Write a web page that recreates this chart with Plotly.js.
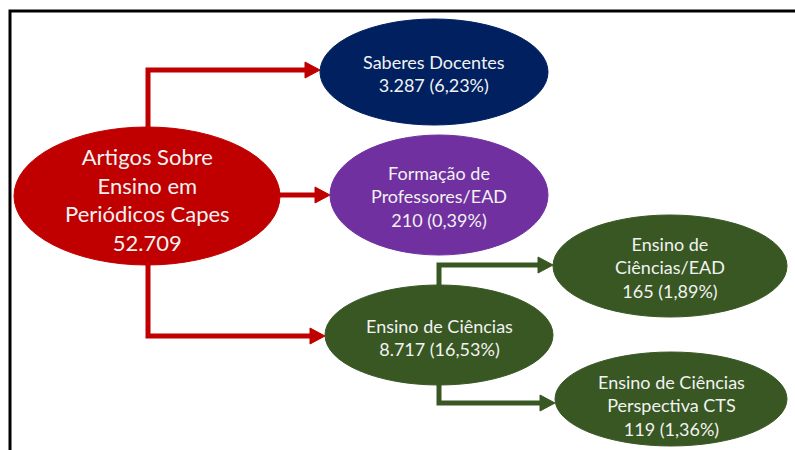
<!DOCTYPE html>
<html>
<head>
<meta charset="utf-8">
<script src="https://cdn.plot.ly/plotly-3.0.1.min.js"></script>
<style>html,body{margin:0;padding:0;background:#fff;}#chart{width:795px;height:450px;}</style>
</head>
<body>
<div id="chart"></div>
<script>
// ---- data ----
const nodeTitles = ["Artigos Sobre<br>Ensino em<br>Periódicos Capes", "Saberes Docentes", "Formação de<br>Professores/EAD", "Ensino de Ciências", "Ensino de<br>Ciências/EAD", "Ensino de Ciências<br>Perspectiva CTS"];
const nodeCounts = ["52.709", "3.287", "210", "8.717", "165", "119"];
const nodePercents = [null, "6,23%", "0,39%", "16,53%", "1,89%", "1,36%"];
const edgeFrom = [0, 0, 0, 3, 3];
const edgeTo = [1, 2, 3, 4, 5];

// ---- layout (positions / styles) ----
const nodeCx = [147, 434, 439, 439, 670, 671];
const nodeCy = [196, 72, 195, 335, 266, 399];
const nodeRx = [133, 114, 109, 114, 117, 116];
const nodeRy = [69, 53, 60, 50, 51, 47];
const nodeColor = ["#C00000", "#002060", "#7030A0", "#385723", "#385723", "#385723"];
const nodeFont = [22, 18, 18, 18, 18, 18];
const textCy = [199, 73, 196, 337, 267, 405];
const edgeColor = ["#C00000", "#C00000", "#C00000", "#385723", "#385723"];
// connector routes: [startX, startY, bendY or null, endX(tip), endY]
const edgeRoute = [
  [148, 128, 70, 320, 70],
  [279, 195, null, 330, 195],
  [148, 264, 336, 325, 336],
  [439, 286, 265, 553, 265],
  [439, 384, 403, 555, 403]
];

const shapes = [];
const annotations = [];

// frame (left and top edges)
shapes.push({type: "path", xref: "x", yref: "y", path: "M10,460 L10,11 L800,11", line: {color: "#000", width: 3}});

// connectors
edgeRoute.forEach((r, i) => {
  const [sx, sy, by, tx, ty] = r;
  const head = 15;
  let p = "M" + sx + "," + sy;
  if (by !== null) p += " L" + sx + "," + by;
  p += " L" + (tx - head + 2) + "," + ty;
  shapes.push({type: "path", xref: "x", yref: "y", path: p, line: {color: edgeColor[i], width: 5}});
  shapes.push({type: "path", xref: "x", yref: "y",
    path: "M" + (tx - head) + "," + (ty - 8) + " L" + tx + "," + ty + " L" + (tx - head) + "," + (ty + 8) + " Z",
    fillcolor: edgeColor[i], line: {color: edgeColor[i], width: 1}});
});

// nodes
nodeTitles.forEach((t, i) => {
  shapes.push({type: "circle", xref: "x", yref: "y",
    x0: nodeCx[i] - nodeRx[i], x1: nodeCx[i] + nodeRx[i],
    y0: nodeCy[i] - nodeRy[i], y1: nodeCy[i] + nodeRy[i],
    fillcolor: nodeColor[i], line: {color: nodeColor[i], width: 1}});
  const txt = t + "<br>" + nodeCounts[i] + (nodePercents[i] ? " (" + nodePercents[i] + ")" : "");
  annotations.push({x: nodeCx[i], y: textCy[i], xref: "x", yref: "y", text: txt, showarrow: false,
    xanchor: "center", yanchor: "middle", align: "center",
    font: {family: "Lato, 'Open Sans', sans-serif", size: nodeFont[i], color: "#F2F2F2"}});
});

const layout = {
  width: 795, height: 450,
  margin: {l: 0, r: 0, t: 0, b: 0},
  paper_bgcolor: "#fff", plot_bgcolor: "#fff",
  xaxis: {range: [0, 795], visible: false, fixedrange: true},
  yaxis: {range: [450, 0], visible: false, fixedrange: true},
  showlegend: false,
  shapes: shapes,
  annotations: annotations
};

Plotly.newPlot("chart", [{x: [], y: [], type: "scatter", mode: "markers", hoverinfo: "skip"}], layout, {staticPlot: true, displayModeBar: false});
</script>
</body>
</html>
